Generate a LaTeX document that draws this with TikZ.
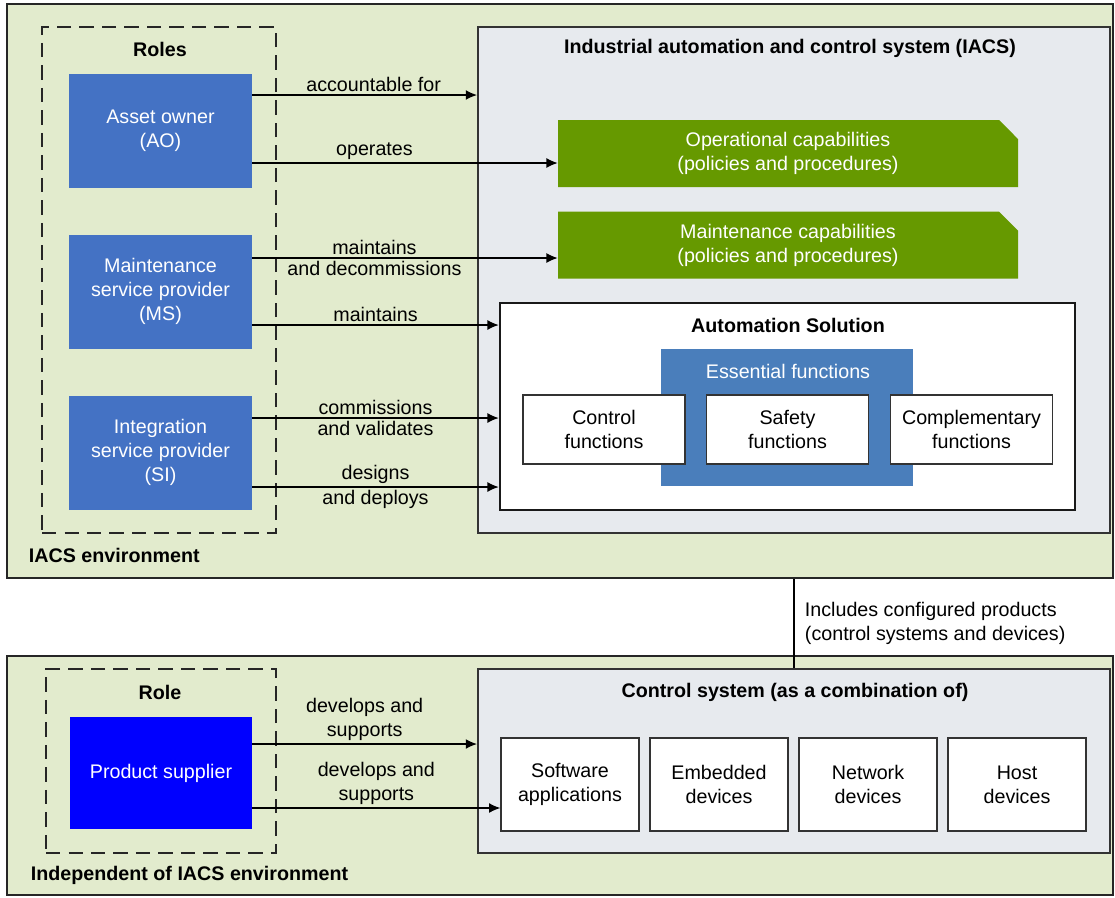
\documentclass[tikz,border=0pt]{standalone}
\usepackage{fontspec}
\setmainfont{Liberation Sans}
\usetikzlibrary{arrows.meta,shapes.misc}

\definecolor{envgreen}{HTML}{E2EBCD}
\definecolor{sysgray}{HTML}{E7EAEE}
\definecolor{roleblue}{HTML}{4472C4}
\definecolor{essblue}{HTML}{4A7EBB}
\definecolor{capgreen}{HTML}{669900}
\definecolor{psblue}{HTML}{0000FF}

% one unit of the picture
\newcommand{\pu}{0.025cm}
\newcommand{\diafont}{\fontsize{14pt}{17pt}\selectfont}

\tikzset{
  envframe/.style={draw=black!85, line width=1.2pt, fill=envgreen},
  rolearea/.style={draw=black!85, line width=1.3pt, dash pattern=on 10pt off 6pt},
  sysbox/.style={draw=black!80, line width=1.4pt, fill=sysgray},
  rolebox/.style={fill=roleblue, text=white, align=center,
    minimum width=183*\pu, minimum height=114*\pu},
  capbox/.style={chamfered rectangle, chamfered rectangle corners=north east,
    chamfered rectangle xsep=10pt, fill=capgreen, text=white, align=center,
    minimum width=460*\pu, minimum height=67*\pu, inner sep=0pt},
  funcbox/.style={draw=black!80, line width=0.9pt, fill=white, align=center},
  title/.style={font=\diafont\bfseries},
  lbl/.style={align=center, inner sep=2pt},
  flow/.style={line width=0.9pt, -{Latex[length=8pt,width=7pt]}}
}

\begin{document}
\begin{tikzpicture}[x=\pu, y=-\pu, font=\diafont]
  \useasboundingbox (0,0) rectangle (1115,897);

  % IACS environment
  \node[envframe, minimum width=1106*\pu, minimum height=574*\pu] (iacsenv) at (560,291) {};
  \node[title, anchor=west] (iacsenvlbl) at (24,555) {IACS environment};

  % Roles
  \node[rolearea, minimum width=234*\pu, minimum height=506*\pu] (roles) at (159,280) {};
  \node[title] (roleslbl) at (160,49) {Roles};
  \node[rolebox] (ao) at (160.5,130.5) {Asset owner\\(AO)};
  \node[rolebox] (ms) at (160.5,291.5) {Maintenance\\service provider\\(MS)};
  \node[rolebox] (si) at (160.5,452.5) {Integration\\service provider\\(SI)};

  % The system itself
  \node[sysbox, minimum width=632*\pu, minimum height=506*\pu] (iacs) at (794,280) {};
  \node[title] (iacslbl) at (790,48) {Industrial automation and control system (IACS)};
  \node[capbox] (opcap) at (788,153.5) {Operational capabilities\\(policies and procedures)};
  \node[capbox] (maincap) at (788,245) {Maintenance capabilities\\(policies and procedures)};

  % Automation solution with its functions
  \node[draw=black!90, line width=1.8pt, fill=white,
    minimum width=575*\pu, minimum height=207*\pu] (autosol) at (787.5,406.5) {};
  \node[title] (autosollbl) at (788,325) {Automation Solution};
  \node[fill=essblue, minimum width=252*\pu, minimum height=137*\pu] (essential) at (787,417.5) {};
  \node[text=white] (essentiallbl) at (788,371) {Essential functions};
  \foreach \x/\n/\t in {604/ctrlfn/{Control\\functions},
                        787.5/safefn/{Safety\\functions},
                        971.5/complfn/{Complementary\\functions}}
    \node[funcbox, minimum width=162*\pu, minimum height=69*\pu] (\n) at (\x,429.5) {\t};

  % What each role does
  \draw[flow] (ao.east |- 0,95) -- (iacs.west |- 0,95)
    node[lbl, above, pos=0.54] {accountable for};
  \draw[flow] (ao.east |- 0,163) -- (opcap.west |- 0,163)
    node[lbl, above, pos=0.4] {operates};
  \draw[flow] (ms.east |- 0,258) -- (maincap.west |- 0,258)
    node[lbl, above, pos=0.4] {maintains}
    node[lbl, below, pos=0.4] {and decommissions};
  \draw[flow] (ms.east |- 0,325) -- (autosol.west |- 0,325)
    node[lbl, above, midway] {maintains};
  \draw[flow] (si.east |- 0,418) -- (autosol.west |- 0,418)
    node[lbl, above, midway] {commissions}
    node[lbl, below, midway] {and validates};
  \draw[flow] (si.east |- 0,487) -- (autosol.west |- 0,487)
    node[lbl, above, midway] {designs}
    node[lbl, below, midway] {and deploys};

  % Independent of IACS environment
  \node[envframe, minimum width=1106*\pu, minimum height=239*\pu] (indepenv) at (560,775.5) {};
  \node[title, anchor=west] (indeplbl) at (26,875) {Independent of IACS environment};
  \node[rolearea, minimum width=230*\pu, minimum height=184*\pu] (role) at (161,761) {};
  \node[title] (rolelbl) at (160,692) {Role};
  \node[fill=psblue, text=white, minimum width=182*\pu, minimum height=112*\pu] (ps) at (161,773) {Product supplier};

  % Control system and its parts
  \node[sysbox, minimum width=632*\pu, minimum height=184*\pu] (ctrlsys) at (794,761) {};
  \node[title] (ctrlsyslbl) at (795,692) {Control system (as a combination of)};
  \foreach \x/\n/\t in {570/sw/{Software\\applications},
                        719/emb/{Embedded\\devices},
                        868/net/{Network\\devices},
                        1017/host/{Host\\devices}}
    \node[funcbox, minimum width=138*\pu, minimum height=93*\pu] (\n) at (\x,784.5) {\t};

  \draw[flow] (ps.east |- 0,744) -- (ctrlsys.west |- 0,744)
    node[lbl, above, midway] {develops and\\supports};
  \draw[flow] (ps.east |- 0,808) -- (sw.west |- 0,808)
    node[lbl, above, midway] {develops and\\supports};

  % Link between the two environments
  \draw[line width=0.9pt] (ctrlsys.north) -- (ctrlsys.north |- iacsenv.south)
    node[midway, right, align=left, xshift=4pt] {Includes configured products\\(control systems and devices)};
\end{tikzpicture}
\end{document}
